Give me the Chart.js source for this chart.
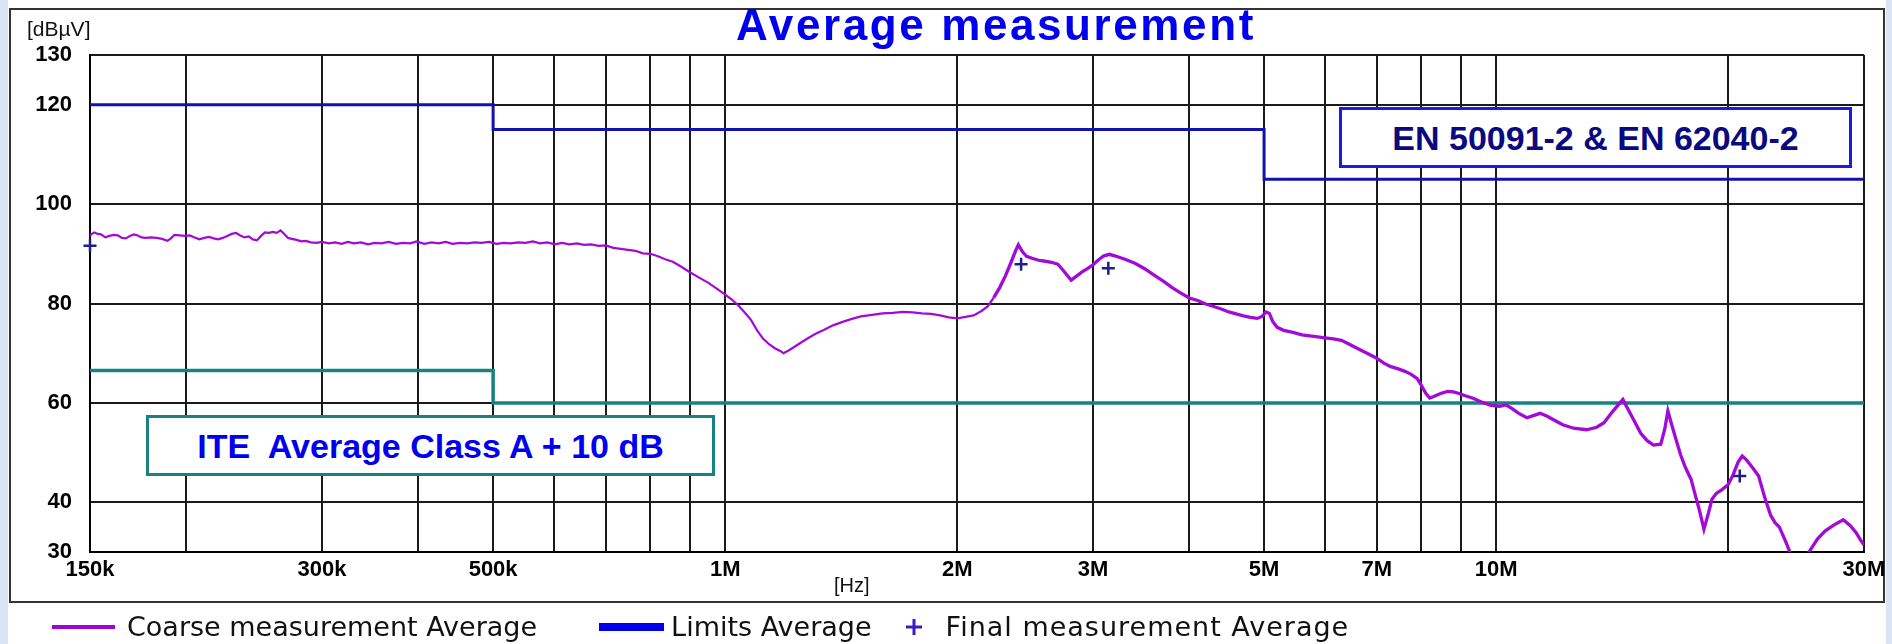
<!DOCTYPE html>
<html>
<head>
<meta charset="utf-8">
<script src="https://cdn.jsdelivr.net/npm/chart.js@4.4.0/dist/chart.umd.min.js"></script>
<style>
html,body{margin:0;padding:0;background:#fff;}
#wrap{position:relative;width:1892px;height:644px;overflow:hidden;}
#c{position:absolute;left:0;top:0;}
.lbl{position:absolute;font-family:'Liberation Sans',Arial,sans-serif;color:#111;white-space:pre;line-height:1;}
.box{position:absolute;box-sizing:border-box;background:#fff;display:flex;align-items:center;justify-content:center;font-family:'Liberation Sans',Arial,sans-serif;font-weight:bold;font-size:34px;white-space:pre;line-height:1;}
#legend{position:absolute;left:52px;top:610px;height:34px;display:flex;align-items:center;font-family:'DejaVu Sans',sans-serif;font-size:27px;color:#111;white-space:pre;line-height:34px;}
</style>
</head>
<body>
<div id="wrap">
<canvas id="c" width="1892" height="644"></canvas>
<div class="lbl" style="left:27px;top:18px;font-size:21px;">[dBµV]</div>
<div class="lbl" style="left:834px;top:575px;font-size:20px;">[Hz]</div>
<div class="box" style="left:1339px;top:107px;width:513px;height:61px;border:3px solid #1a1aee;color:#0a0a80;">EN 50091-2 &amp; EN 62040-2</div>
<div class="box" style="left:146px;top:415px;width:569px;height:61px;border:3px solid #178282;color:#0000ee;">ITE  Average Class A + 10 dB</div>
<div id="legend"></div>
</div>
<script>
// ---- data (frequency in MHz, level in dBµV) ----
const coarseFreqs = [
0.150,0.1505,0.152,0.1535,0.155,0.157,0.159,0.161,0.163,0.165,
0.167,0.169,0.171,0.173,0.175,0.177,0.180,0.183,0.186,0.189,
0.191,0.193,0.196,0.199,0.202,0.205,0.208,0.211,0.214,0.217,
0.220,0.223,0.226,0.229,0.232,0.235,0.238,0.241,0.244,0.247,
0.250,0.253,0.256,0.259,0.262,0.265,0.268,0.271,0.274,0.278,
0.282,0.286,0.290,0.295,0.300,0.306,0.312,0.318,0.324,0.330,
0.337,0.344,0.351,0.358,0.366,0.374,0.382,0.390,0.398,0.407,
0.416,0.425,0.434,0.443,0.453,0.463,0.473,0.483,0.494,0.505,
0.516,0.527,0.539,0.551,0.563,0.575,0.588,0.601,0.614,0.628,
0.642,0.656,0.670,0.685,0.700,0.716,0.732,0.748,0.765,0.782,
0.800,0.818,0.836,0.855,0.875,0.900,0.925,0.950,0.975,1.000,
1.02,1.04,1.06,1.08,1.10,1.12,1.14,1.16,1.18,1.19,
1.21,1.23,1.25,1.28,1.31,1.34,1.38,1.42,1.46,1.50,
1.55,1.60,1.65,1.70,1.75,1.80,1.85,1.90,1.95,2.00,
2.05,2.10,2.15,2.19,2.23,2.27,2.31,2.35,2.38,2.40,
2.43,2.46,2.50,2.55,2.60,2.65,2.70,2.74,2.78,2.81,
2.85,2.90,2.95,3.00,3.05,3.10,3.15,3.20,3.30,3.40,
3.50,3.60,3.70,3.80,3.90,4.00,4.10,4.20,4.30,4.40,
4.50,4.60,4.70,4.80,4.90,4.97,5.03,5.08,5.13,5.20,
5.30,5.45,5.60,5.80,6.00,6.15,6.30,6.45,6.60,6.80,
7.00,7.15,7.30,7.45,7.60,7.75,7.90,8.00,8.10,8.20,
8.30,8.47,8.65,8.80,8.95,9.10,9.35,9.60,9.85,10.1,
10.3,10.5,10.7,10.96,11.2,11.4,11.65,11.9,12.2,12.6,
13.1,13.5,13.8,14.1,14.4,14.6,14.85,15.1,15.4,15.7,
16.0,16.35,16.55,16.7,16.9,17.1,17.35,17.6,17.9,18.1,
18.35,18.6,18.85,19.05,19.3,19.65,20.0,20.3,20.6,20.85,
21.1,21.5,21.9,22.3,22.7,23.0,23.3,23.7,24.1,24.6,
25.1,25.6,26.1,26.7,27.4,28.2,28.8,29.3,29.7,30.0
];
const coarseLevels = [
93.5,93.9,94.3,94.0,93.9,93.3,93.6,93.8,93.7,93.2,
93.1,93.6,93.9,93.7,93.3,93.2,93.3,93.2,93.0,92.6,
93.1,93.8,93.7,93.6,93.7,93.3,92.9,93.2,93.4,93.1,
92.9,93.2,93.6,94.0,94.2,93.7,93.3,93.5,92.9,92.7,
93.6,94.3,94.2,94.4,94.2,94.7,94.0,93.2,93.0,92.8,
92.5,92.6,92.3,92.2,92.4,92.1,92.3,92.0,92.4,92.1,
92.3,91.9,92.2,92.1,92.4,92.0,92.2,92.1,92.5,92.0,
92.3,92.1,92.4,92.0,92.2,92.1,92.3,92.2,92.4,92.0,
92.2,92.1,92.3,92.2,92.5,92.1,92.3,91.9,92.2,91.9,
92.1,91.8,91.9,91.6,91.7,91.2,91.0,90.8,90.6,90.1,
90.0,89.5,88.9,88.4,87.5,86.3,85.2,84.2,83.0,81.8,
80.8,79.6,78.2,76.7,74.6,72.9,71.8,71.0,70.4,70.0,
70.6,71.3,72.0,73.0,73.9,74.6,75.6,76.3,76.9,77.4,
77.7,78.0,78.1,78.3,78.2,78.0,77.9,77.6,77.2,77.0,
77.3,77.6,78.5,79.4,81.2,83.2,85.6,88.4,90.6,91.8,
90.4,89.5,89.1,88.7,88.5,88.3,87.9,86.8,85.6,84.7,
85.4,86.3,87.0,87.8,88.8,89.6,89.9,89.6,88.9,88.1,
87.0,85.7,84.5,83.2,82.1,81.1,80.6,79.9,79.4,78.9,
78.3,77.9,77.5,77.2,77.0,77.4,78.3,78.0,76.4,75.2,
74.6,74.2,73.7,73.4,73.1,72.9,72.6,71.8,71.0,70.0,
69.0,68.0,67.3,66.9,66.4,65.8,64.9,63.5,62.0,61.0,
61.3,61.9,62.3,62.2,61.9,61.5,60.9,60.1,59.5,59.3,
59.6,58.8,57.9,57.0,57.5,57.9,57.3,56.5,55.6,54.9,
54.6,55.1,56.0,57.9,59.6,60.7,58.5,56.4,53.9,52.4,
51.5,51.7,54.8,58.4,55.5,52.8,49.5,47.0,44.6,41.8,
38.4,34.6,37.8,40.6,41.8,42.6,43.6,45.6,48.1,49.3,
48.6,47.0,45.3,41.0,37.4,35.9,35.0,32.4,29.6,27.5,
28.4,30.6,32.6,34.2,35.4,36.5,35.3,33.9,32.4,31.4
];
const limitFreqs  = [0.15, 0.5, 0.5, 5, 5, 30];
const limitLevels = [120, 120, 115, 115, 105, 105];
const iteFreqs  = [0.15, 0.5, 0.5, 30];
const iteLevels = [66.5, 66.5, 60, 60];
const finalFreqs  = [0.15, 2.42, 3.14, 20.7];
const finalLevels = [91.6, 87.9, 87.1, 45.3];
const xTickValues = [0.15,0.2,0.3,0.4,0.5,0.6,0.7,0.8,0.9,1,2,3,4,5,6,7,8,9,10,20,30];
const xTickLabels = ['150k','','300k','','500k','','','','','1M','2M','3M','','5M','','7M','','','10M','','30M'];
const yTickValues = [30,40,60,80,100,120,130];

const pts = (xs, ys) => xs.map((x, i) => ({x: x, y: ys[i]}));
const FONT = "'Liberation Sans', Arial, sans-serif";

const framePlugin = {
  id: 'frame',
  beforeDraw(chart) {
    const ctx = chart.ctx, W = chart.width, H = chart.height;
    ctx.save();
    ctx.fillStyle = '#d9e5f3'; ctx.fillRect(0, 0, W, H);
    ctx.fillStyle = '#ffffff'; ctx.fillRect(8, 0, W - 14, H);
    ctx.strokeStyle = '#333'; ctx.lineWidth = 2; ctx.strokeRect(10, 9, 1874, 593);
    ctx.restore();
    const tb = chart.titleBlock;
    if (tb && !tb._spaced) {
      const orig = tb.draw.bind(tb);
      tb.draw = function () {
        const c = chart.ctx; c.save(); c.translate(19, 1); c.letterSpacing = '2.6px'; orig(); c.restore();
      };
      tb._spaced = true;
    }
  }
};

const gridOpts = {color: '#1a1a1a', lineWidth: 2, drawTicks: false};
const tickFont = {family: FONT, size: 22, weight: 'bold'};

const chart = new Chart(document.getElementById('c'), {
  type: 'line',
  data: {
    datasets: [
      {label: 'Coarse measurement Average', data: pts(coarseFreqs, coarseLevels), borderColor: '#a20ad8',
       borderWidth: 2.2, pointRadius: 0, tension: 0, order: 2,
       segment: {borderWidth: c => (c.p0.parsed.x >= 2.2 ? 3.3 : 2.2)}},
      {label: 'Limits Average', data: pts(limitFreqs, limitLevels), borderColor: '#1212b0',
       borderWidth: 3, pointRadius: 0, order: 1},
      {label: 'ITE Average Class A + 10 dB', data: pts(iteFreqs, iteLevels), borderColor: '#178282',
       borderWidth: 3.5, pointRadius: 0, order: 3},
      {label: 'Final measurement Average', data: pts(finalFreqs, finalLevels), showLine: false,
       pointStyle: 'cross', pointRadius: 6.5, borderColor: '#1e1e8c', backgroundColor: '#1e1e8c',
       pointBorderWidth: 2.5, clip: false, order: 0}
    ]
  },
  options: {
    responsive: false, animation: false, devicePixelRatio: 1,
    layout: {padding: {top: 0, left: 0, right: 28, bottom: 41}},
    plugins: {
      legend: {display: false},
      tooltip: {enabled: false},
      title: {display: true, text: 'Average measurement', fullSize: false, color: '#0000ee',
              font: {family: FONT, size: 44, weight: 'bold', lineHeight: 1}, padding: {top: 5, bottom: 6}}
    },
    scales: {
      x: {type: 'logarithmic', min: 0.15, max: 30,
          afterBuildTicks: s => { s.ticks = xTickValues.map(v => ({value: v})); },
          afterFit: s => { s.height = 51; },
          ticks: {autoSkip: false, maxRotation: 0, minRotation: 0, padding: 5, color: '#000', font: tickFont,
                  callback: (v, i) => xTickLabels[i]},
          grid: gridOpts, border: {color: '#000', width: 2}},
      y: {type: 'linear', min: 30, max: 130,
          afterBuildTicks: s => { s.ticks = yTickValues.map(v => ({value: v})); },
          afterFit: s => { s.width = 90; },
          ticks: {padding: 18, color: '#000', font: tickFont, callback: v => String(v)},
          grid: gridOpts, border: {color: '#000', width: 2}}
    }
  },
  plugins: [framePlugin]
});

// ---- HTML legend built from the chart's datasets ----
const legendLook = {
  'Coarse measurement Average': {kind: 'bar', color: '#a000d8', w: 63, h: 4, gap: 12, lead: 0, ls: 0},
  'Limits Average': {kind: 'bar', color: '#0000ee', w: 65, h: 8, gap: 7, lead: 62, ls: 0},
  'Final measurement Average': {kind: 'plus', color: '#3a1ac8', w: 18, h: 18, gap: 23, lead: 33, ls: 1}
};
(function buildLegend() {
  const el = document.getElementById('legend');
  chart.data.datasets.forEach(ds => {
    const look = legendLook[ds.label];
    if (!look) return;
    const item = document.createElement('div');
    item.style.cssText = 'display:flex;align-items:center;margin-left:' + look.lead + 'px;';
    const sw = document.createElement('div');
    sw.style.cssText = 'width:' + look.w + 'px;height:' + look.h + 'px;margin-right:' + look.gap + 'px;flex:none;';
    if (look.kind === 'bar') sw.style.background = look.color;
    else sw.innerHTML = '<svg width="18" height="18" style="display:block"><path d="M9 1V17M1 9H17" stroke="' + look.color + '" stroke-width="3"/></svg>';
    const tx = document.createElement('span');
    tx.textContent = ds.label;
    tx.style.letterSpacing = look.ls + 'px';
    item.appendChild(sw); item.appendChild(tx);
    el.appendChild(item);
  });
})();
</script>
</body>
</html>
